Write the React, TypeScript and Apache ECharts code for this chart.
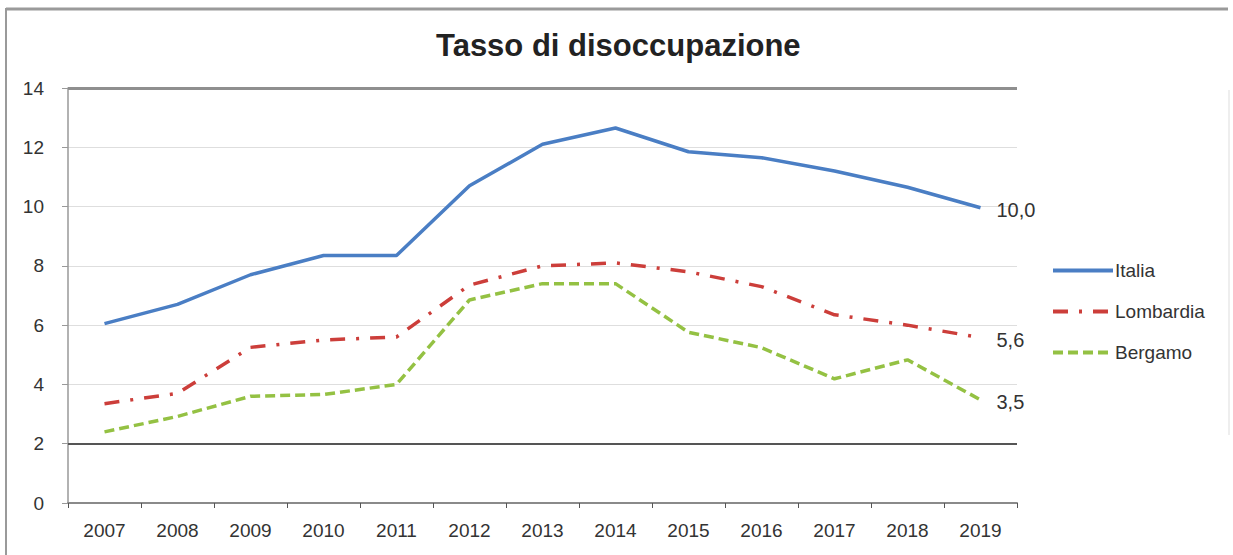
import React, { useEffect, useRef } from "react";
import * as echarts from "echarts";

const years = ["2007", "2008", "2009", "2010", "2011", "2012", "2013", "2014", "2015", "2016", "2017", "2018", "2019"];
const italia = [6.05, 6.7, 7.7, 8.35, 8.35, 10.7, 12.1, 12.65, 11.85, 11.65, 11.2, 10.65, 9.96];
const lombardia = [3.35, 3.7, 5.25, 5.5, 5.6, 7.35, 8.0, 8.1, 7.8, 7.3, 6.35, 6.0, 5.58];
const bergamo = [2.4, 2.92, 3.6, 3.66, 4.0, 6.85, 7.4, 7.4, 5.76, 5.24, 4.19, 4.83, 3.48];
const yTicks = { min: 0, max: 14, interval: 2 };
const titleText = "Tasso di disoccupazione";

const FONT = "Liberation Sans";

const fmt = (p: any) => {
  const v = Array.isArray(p.value) ? p.value[1] : p.value;
  return Number(v).toFixed(1).replace(".", ",");
};

export default function App() {
  const ref = useRef<HTMLDivElement>(null);
  useEffect(() => {
    if (!ref.current) return;
    const chart = echarts.init(ref.current, undefined, { renderer: "svg" });
    const endLabel = {
      show: true,
      formatter: fmt,
      distance: 16,
      offset: [0, 2],
      fontFamily: FONT,
      fontSize: 20,
      color: "#333",
    };
    chart.setOption({
      animation: false,
      backgroundColor: "#fff",
      textStyle: { fontFamily: FONT },
      title: {
        text: titleText,
        left: 431,
        top: 25,
        textStyle: { fontFamily: FONT, fontSize: 31, fontWeight: "bold", color: "#222" },
      },
      legend: {
        orient: "vertical",
        left: 1046,
        top: 256,
        itemWidth: 60,
        itemHeight: 14,
        itemGap: 22,
        itemStyle: { color: "rgba(0,0,0,0)", borderWidth: 0, opacity: 0 },
        lineStyle: { width: 4 },
        textStyle: { fontFamily: FONT, fontSize: 19, color: "#333", padding: [0, 0, 0, -3] },
        data: ["Italia", "Lombardia", "Bergamo"],
      },
      grid: { left: 68, right: 216, top: 88, bottom: 52, containLabel: false },
      xAxis: {
        type: "category",
        data: years,
        boundaryGap: true,
        axisLine: { lineStyle: { color: "#8a8a8a", width: 2 } },
        axisTick: { show: true, length: 5, lineStyle: { color: "#555", width: 1 } },
        axisLabel: { fontFamily: FONT, fontSize: 19, color: "#333", margin: 18 },
      },
      yAxis: {
        type: "value",
        min: yTicks.min,
        max: yTicks.max,
        interval: yTicks.interval,
        axisLine: { show: true, lineStyle: { color: "#999", width: 1.5 } },
        axisTick: { show: true, length: 6, lineStyle: { color: "#999" } },
        axisLabel: { fontFamily: FONT, fontSize: 19, color: "#333", margin: 24 },
        splitLine: { lineStyle: { color: "#dedede", width: 1 } },
      },
      series: [
        {
          name: "Italia",
          type: "line",
          data: italia,
          symbol: "none",
          color: "#4a7ec4",
          lineStyle: { color: "#4a7ec4", width: 3.5 },
          endLabel,
          markLine: {
            silent: true,
            symbol: "none",
            label: { show: false },
            data: [
              { yAxis: 14, lineStyle: { color: "#8f8f8f", width: 3, type: "solid" } },
              { yAxis: 2, lineStyle: { color: "#555", width: 2, type: "solid" } },
            ],
          },
          z: 3,
        },
        {
          name: "Lombardia",
          type: "line",
          data: lombardia,
          symbol: "none",
          color: "#cc3e3a",
          lineStyle: { color: "#cc3e3a", width: 3.5, type: [15, 11, 3, 11] },
          endLabel,
          z: 2,
        },
        {
          name: "Bergamo",
          type: "line",
          data: bergamo,
          symbol: "none",
          color: "#94c143",
          lineStyle: { color: "#94c143", width: 3.5, type: [10, 5] },
          endLabel,
          z: 1,
        },
      ],
      graphic: [
        { type: "line", shape: { x1: 6, y1: 9, x2: 1228, y2: 9 }, style: { stroke: "#9a9a9a", lineWidth: 3 } },
        { type: "line", shape: { x1: 6, y1: 8, x2: 6, y2: 555 }, style: { stroke: "#9a9a9a", lineWidth: 2 } },
        { type: "line", shape: { x1: 1229, y1: 90, x2: 1229, y2: 435 }, style: { stroke: "#eeeeee", lineWidth: 2 } },
      ],
    });
    return () => chart.dispose();
  }, []);
  return (
    <div
      ref={ref}
      style={{ position: "fixed", left: 0, top: 0, width: 1233, height: 555, background: "#fff" }}
    />
  );
}
